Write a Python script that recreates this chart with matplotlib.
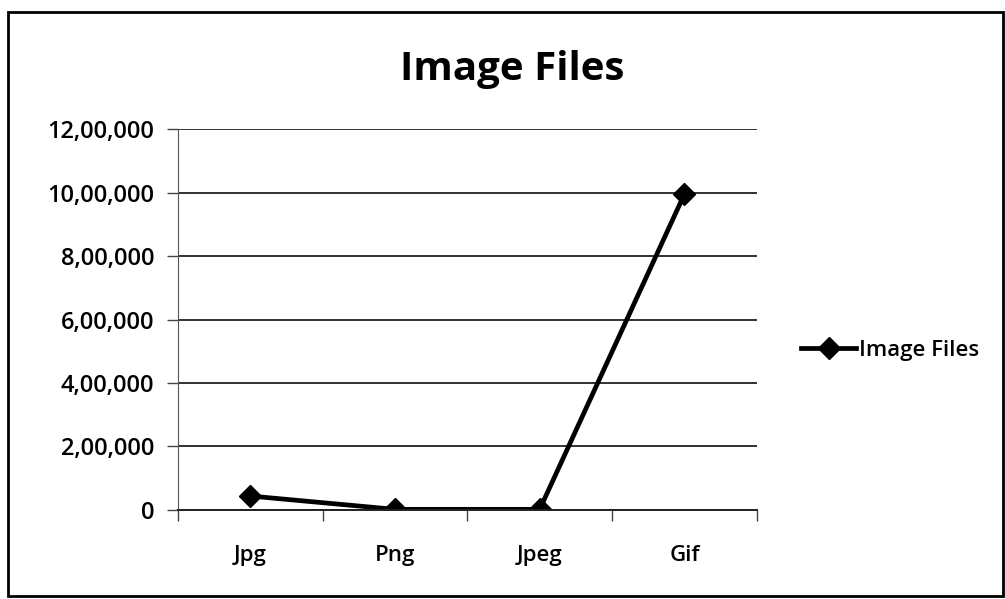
import matplotlib
matplotlib.use("Agg")
import matplotlib.pyplot as plt
from matplotlib.patches import Rectangle
from matplotlib.ticker import FuncFormatter, MultipleLocator

categories = ["Jpg", "Png", "Jpeg", "Gif"]
values = [44000, 2000, 2000, 995000]
series_name = "Image Files"
title = "Image Files"

plt.rcParams['font.family'] = ['Open Sans', 'DejaVu Sans']

def indian(v, pos=None):
    v = int(round(v))
    if v == 0:
        return "0"
    s = str(v)
    last3 = s[-3:]
    rest = s[:-3]
    groups = []
    while len(rest) > 2:
        groups.insert(0, rest[-2:])
        rest = rest[:-2]
    if rest:
        groups.insert(0, rest)
    return ",".join(groups + [last3])

fig = plt.figure(figsize=(10.05, 5.99), dpi=100)
ax = fig.add_axes([0.177, 0.1486, 0.576, 0.636])

x = list(range(len(categories)))
ax.plot(x, values, color="black", lw=3.4, marker="D", markersize=11,
        label=series_name, solid_joinstyle="round")
ax.set_xlim(-0.5, len(categories) - 0.5)
ax.set_ylim(0, 1200000)
ax.yaxis.set_major_locator(MultipleLocator(200000))
ax.yaxis.set_major_formatter(FuncFormatter(indian))
ax.set_xticks(x)
ax.set_xticklabels(categories)
ax.set_xticks([-0.5, 0.5, 1.5, 2.5, 3.5], minor=True)
ax.tick_params(axis="x", which="major", length=0, pad=25, labelsize=16)
ax.tick_params(axis="x", which="minor", length=8, width=1, color="#444444")
ax.tick_params(axis="y", length=8, width=1, color="#444444", labelsize=17, pad=9)
for lab in ax.get_xticklabels() + ax.get_yticklabels():
    lab.set_fontweight("semibold")
ax.grid(axis="y", color="#222222", lw=1.3)
ax.set_axisbelow(True)
for s in ["top", "right"]:
    ax.spines[s].set_visible(False)
ax.spines["left"].set_color("#555555")
ax.spines["bottom"].set_color("#222222")
ax.spines["bottom"].set_linewidth(1.4)

fig.text(0.51, 0.884, title, ha="center", va="center", fontsize=29, fontweight="bold")

leg = fig.legend(loc="center left", bbox_to_anchor=(0.777, 0.415), frameon=False,
                 prop={"size": 16, "weight": "semibold"}, handlelength=2.5, handletextpad=0.1)

fig.patches.append(Rectangle((0.008, 0.005), 0.99, 0.975, transform=fig.transFigure,
                             fill=False, edgecolor="black", lw=2))

fig.savefig("out.png", dpi=100)
